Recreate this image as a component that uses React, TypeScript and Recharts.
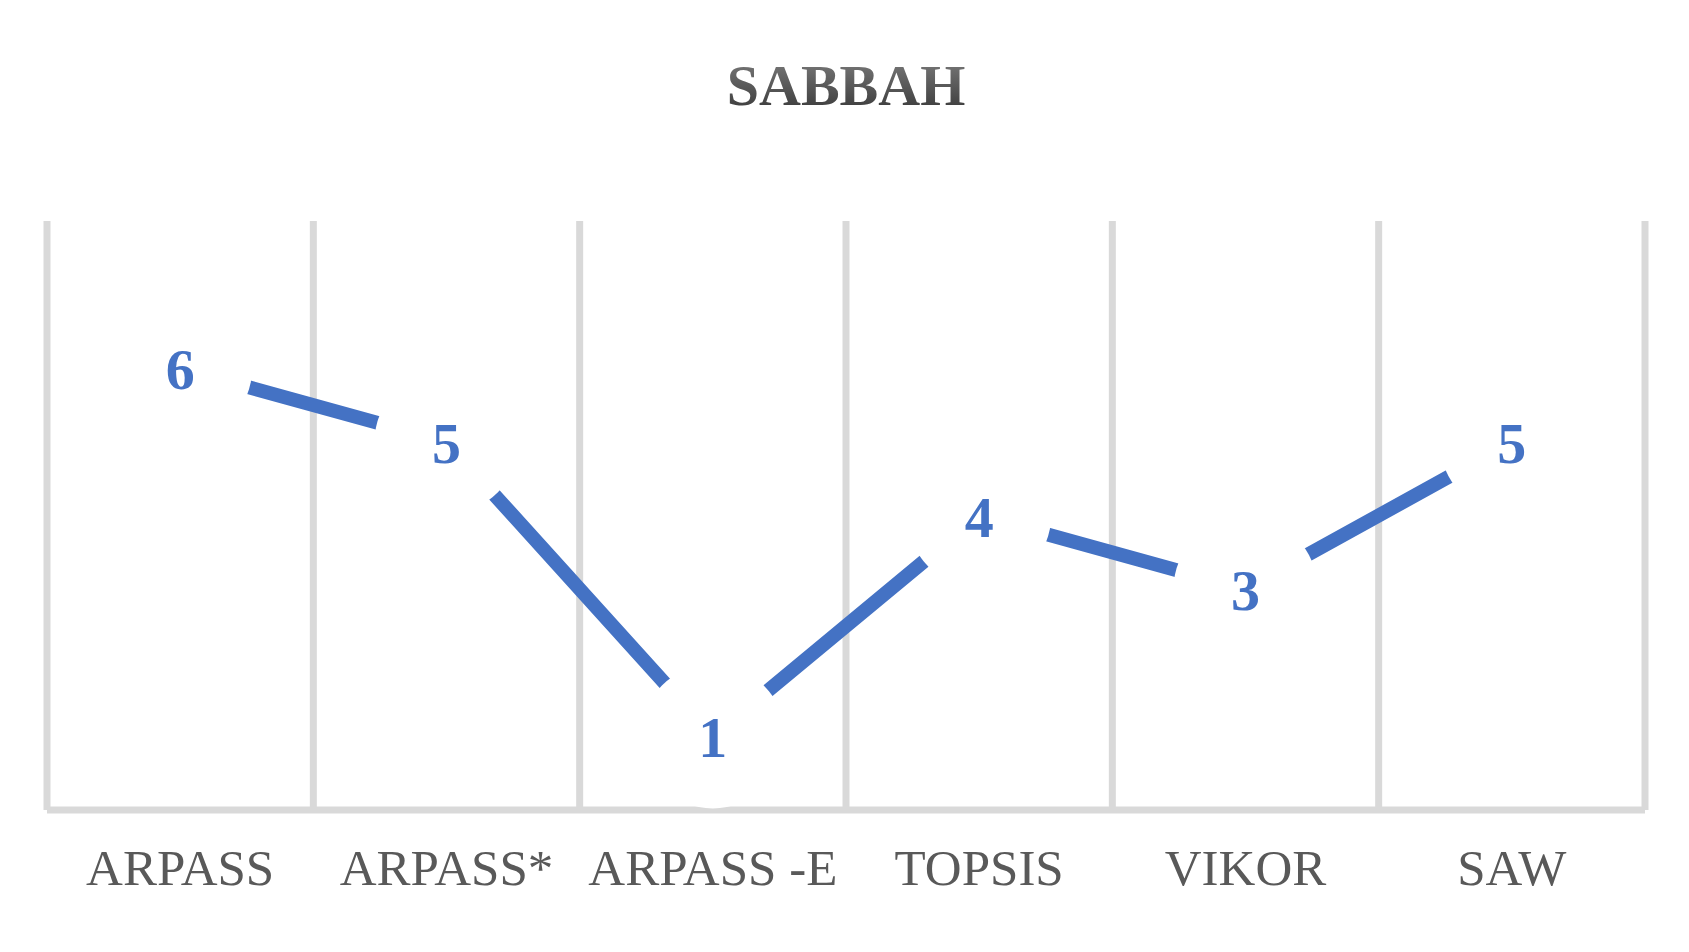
import React from "react";
import { LineChart, Line, XAxis, YAxis, CartesianGrid, LabelList } from "recharts";

const categories = ["ARPASS", "ARPASS*", "ARPASS -E", "TOPSIS", "VIKOR", "SAW"];
const ranks = [6, 5, 1, 4, 3, 5];

const W = 1689;
const H = 952;
const PLOT_LEFT = 47;
const PLOT_RIGHT = 44;
const BAND = (W - PLOT_LEFT - PLOT_RIGHT) / categories.length;
const BLUE = "#4472C4";
const GRID = "#D9D9D9";
const SERIF = "'Liberation Serif', 'Times New Roman', serif";

const data = categories.map((name, i) => ({ name, rank: ranks[i] }));

function RankLabel(props: any) {
  const { x, y, value } = props;
  if (x == null || y == null) return null;
  return (
    <g>
      <circle cx={x} cy={y} r={72} fill="#fff" />
      <text
        x={x}
        y={y}
        dy={21}
        textAnchor="middle"
        fontFamily={SERIF}
        fontWeight="bold"
        fontSize={58}
        fill={BLUE}
      >
        {value}
      </text>
    </g>
  );
}

function CategoryTick(props: any) {
  const { x, y, payload } = props;
  return (
    <text
      x={x}
      y={y}
      dy={67}
      textAnchor="middle"
      fontFamily={SERIF}
      fontSize={51}
      fill="#595959"
    >
      {payload.value}
    </text>
  );
}

export default function App() {
  return (
    <div style={{ position: "absolute", left: 0, top: 0, width: W, height: H, background: "#fff" }}>
      <LineChart
        width={W}
        height={H}
        data={data}
        margin={{ top: 221, right: PLOT_RIGHT, left: PLOT_LEFT, bottom: 82 }}
      >
        <CartesianGrid
          horizontal={false}
          stroke={GRID}
          strokeWidth={7}
          verticalCoordinatesGenerator={({ offset }: any) =>
            categories
              .map((_, i) => offset.left + (i * offset.width) / categories.length)
              .concat(offset.left + offset.width)
          }
        />
        <XAxis
          dataKey="name"
          height={60}
          padding={{ left: BAND / 2, right: BAND / 2 }}
          tickLine={false}
          axisLine={{ stroke: GRID, strokeWidth: 7 }}
          tick={<CategoryTick />}
          interval={0}
        />
        <YAxis hide domain={[0, 8]} />
        <Line
          dataKey="rank"
          stroke={BLUE}
          strokeWidth={14}
          dot={false}
          activeDot={false}
          isAnimationActive={false}
        >
          <LabelList dataKey="rank" content={<RankLabel />} />
        </Line>
      </LineChart>
      <svg
        width={W}
        height={140}
        style={{ position: "absolute", left: 0, top: 0, pointerEvents: "none" }}
      >
        <defs>
          <linearGradient id="titleFill" x1="0" y1="0" x2="0" y2="1">
            <stop offset="0%" stopColor="#808080" />
            <stop offset="100%" stopColor="#333333" />
          </linearGradient>
        </defs>
        <text
          x={846}
          y={105}
          textAnchor="middle"
          fontFamily={SERIF}
          fontWeight="bold"
          fontSize={58}
          fill="url(#titleFill)"
        >
          SABBAH
        </text>
      </svg>
    </div>
  );
}
